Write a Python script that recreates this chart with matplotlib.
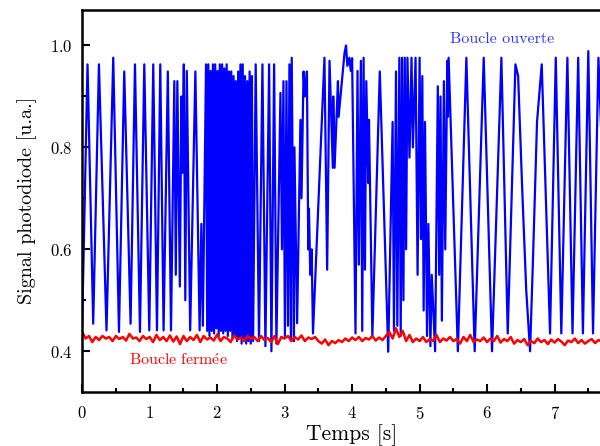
import numpy as np
import matplotlib
matplotlib.use('Agg')
import matplotlib.pyplot as plt
from matplotlib.ticker import MultipleLocator

plt.rcParams['font.family'] = ['cmr10', 'DejaVu Serif']
plt.rcParams['mathtext.fontset'] = 'cm'
plt.rcParams['axes.formatter.use_mathtext'] = True

# Boucle ouverte: extrema (time [s], signal [u.a.])
blue_t = [0.0, 0.079, 0.163, 0.248, 0.36, 0.46, 0.545, 0.623, 0.717, 0.782, 0.856, 0.92, 0.994,
          1.053, 1.108, 1.157, 1.206, 1.269, 1.316, 1.365, 1.387, 1.41, 1.447, 1.47, 1.484,
          1.506, 1.528, 1.55, 1.60, 1.677, 1.74, 1.766, 1.788, 1.835,
          1.852, 1.869, 1.886, 1.903, 1.920, 1.937, 1.954, 1.971, 1.988, 2.005,
          2.022, 2.039, 2.056, 2.073, 2.090, 2.107, 2.124, 2.141, 2.158, 2.175, 2.192, 2.209,
          2.226, 2.243, 2.260, 2.277, 2.294, 2.311, 2.328, 2.345, 2.362, 2.379, 2.396, 2.413,
          2.430, 2.447, 2.464, 2.481, 2.498, 2.515, 2.532,
          2.571, 2.62, 2.671, 2.715, 2.77, 2.804, 2.844, 2.878, 2.938, 2.96, 2.982, 3.004,
          3.027, 3.05, 3.071, 3.093, 3.105, 3.138, 3.145, 3.185, 3.234, 3.25, 3.28, 3.30, 3.33,
          3.35, 3.36, 3.38, 3.40,
          3.42, 3.59, 3.63, 3.665, 3.714, 3.72, 3.74, 3.79, 3.80, 3.887, 3.91, 3.93, 3.96, 3.98, 4.0,
          4.05, 4.08, 4.10, 4.13, 4.15, 4.17, 4.19, 4.21, 4.24, 4.25, 4.30, 4.41, 4.535,
          4.60, 4.62, 4.65, 4.67, 4.70, 4.72, 4.74, 4.76, 4.78, 4.80, 4.82, 4.85, 4.88, 4.90,
          4.94, 4.97, 5.00, 5.02, 5.04, 5.06, 5.08, 5.11, 5.13, 5.16, 5.18, 5.23,
          5.27, 5.29, 5.31, 5.33, 5.36, 5.38, 5.41, 5.42, 5.43,
          5.567, 5.693, 5.816, 5.95, 6.073, 6.212, 6.306, 6.42, 6.46, 6.52, 6.58, 6.637,
          6.68, 6.74, 6.81, 6.933, 7.018, 7.10, 7.19, 7.266, 7.35, 7.42, 7.50, 7.57, 7.65, 7.70]
blue_v = [0.455, 0.963, 0.454, 0.963, 0.441, 0.976, 0.438, 0.949, 0.454, 0.963, 0.438, 0.963, 0.441,
          0.963, 0.441, 0.963, 0.441, 0.949, 0.441, 0.93, 0.55, 0.93, 0.527, 0.90, 0.75,
          0.963, 0.50, 0.95, 0.441, 0.949, 0.441, 0.65, 0.45, 0.963,
          0.44, 0.963, 0.43, 0.95, 0.44, 0.963, 0.435, 0.963, 0.445, 0.95,
          0.43, 0.963, 0.44, 0.963, 0.435, 0.955, 0.44, 0.963, 0.43, 0.949, 0.44, 0.949,
          0.425, 0.94, 0.43, 0.93, 0.42, 0.949, 0.425, 0.963, 0.415, 0.963, 0.42, 0.94,
          0.415, 0.93, 0.42, 0.949, 0.415, 0.94, 0.42,
          0.963, 0.42, 0.963, 0.41, 0.963, 0.40, 0.963, 0.415, 0.907, 0.60, 0.93, 0.43,
          0.93, 0.45, 0.963, 0.42, 0.976, 0.42, 0.80, 0.455, 0.854, 0.70, 0.949, 0.90, 0.949,
          0.60, 0.68, 0.55, 0.60,
          0.435, 0.976, 0.56, 0.97, 0.76, 0.90, 0.76, 0.93, 0.86, 0.985, 1.0, 0.96, 0.976, 0.95, 0.975,
          0.435, 0.95, 0.57, 0.97, 0.44, 0.976, 0.56, 0.93, 0.73, 0.854, 0.43, 0.949, 0.399,
          0.85, 0.44, 0.949, 0.45, 0.976, 0.43, 0.976, 0.50, 0.976, 0.60, 0.976, 0.78, 0.976, 0.80,
          0.976, 0.55, 0.976, 0.62, 0.94, 0.48, 0.85, 0.43, 0.65, 0.41, 0.55, 0.40,
          0.92, 0.55, 0.90, 0.46, 0.93, 0.60, 0.97, 0.86, 0.976,
          0.40, 0.976, 0.40, 0.976, 0.40, 0.976, 0.435, 0.963, 0.94, 0.72, 0.52, 0.40,
          0.58, 0.85, 0.963, 0.435, 0.976, 0.435, 0.976, 0.435, 0.976, 0.435, 0.989, 0.435, 0.976, 0.80]

# Boucle fermée: sampled every 0.05 s
red_v = [0.438, 0.425, 0.43, 0.418, 0.428, 0.422, 0.43, 0.425, 0.428, 0.42,
         0.43, 0.424, 0.428, 0.421, 0.434, 0.425, 0.427, 0.42, 0.43, 0.424,
         0.428, 0.418, 0.432, 0.422, 0.428, 0.42, 0.431, 0.419, 0.429, 0.414,
         0.43, 0.42, 0.428, 0.422, 0.432, 0.418, 0.43, 0.423, 0.427, 0.421,
         0.433, 0.42, 0.428, 0.425, 0.418, 0.431, 0.423, 0.427, 0.42, 0.43,
         0.424, 0.428, 0.42, 0.43, 0.422, 0.426, 0.418, 0.43, 0.414, 0.428,
         0.425, 0.43, 0.42, 0.428, 0.423, 0.431, 0.42, 0.427, 0.424, 0.428,
         0.42, 0.415, 0.423, 0.412, 0.42, 0.416, 0.422, 0.418, 0.425, 0.42,
         0.427, 0.422, 0.428, 0.42, 0.426, 0.423, 0.43, 0.421, 0.427, 0.422,
         0.43, 0.438, 0.425, 0.445, 0.428, 0.44, 0.42, 0.432, 0.418, 0.425,
         0.42, 0.428, 0.418, 0.424, 0.42, 0.432, 0.418, 0.425, 0.421, 0.428,
         0.42, 0.424, 0.415, 0.428, 0.42, 0.432, 0.418, 0.423, 0.42, 0.427,
         0.418, 0.425, 0.42, 0.43, 0.417, 0.424, 0.42, 0.428, 0.415, 0.422,
         0.418, 0.424, 0.412, 0.42, 0.416, 0.425, 0.418, 0.422, 0.414, 0.423,
         0.417, 0.424, 0.419, 0.412, 0.421, 0.418, 0.425, 0.416, 0.422, 0.415,
         0.42, 0.424, 0.416, 0.422, 0.419]
red_t = np.linspace(0, 7.7, len(red_v))

fig = plt.figure(figsize=(6, 4.46), dpi=100)
ax = fig.add_axes([0.137, 0.121, 0.866, 0.857])

ax.plot(blue_t, blue_v, color='blue', lw=1.6, solid_joinstyle='round')
ax.plot(red_t, red_v, color='red', lw=1.8, solid_joinstyle='round')

ax.set_xlim(0, 7.7)
ax.set_ylim(0.32, 1.07)
ax.xaxis.set_major_locator(MultipleLocator(1))
ax.xaxis.set_minor_locator(MultipleLocator(0.5))
ax.yaxis.set_major_locator(MultipleLocator(0.2))
ax.yaxis.set_minor_locator(MultipleLocator(0.1))
ax.tick_params(which='both', direction='in', width=1.5, labelsize=12)
ax.tick_params(which='major', length=6)
ax.tick_params(axis='x', which='major', pad=9)
ax.tick_params(axis='y', which='major', pad=7)
ax.tick_params(which='minor', length=3)
for s in ax.spines.values():
    s.set_linewidth(1.8)
ax.spines['right'].set_visible(False)

ax.set_xlabel('Temps [s]', fontsize=15.5, labelpad=2)
ax.xaxis.label.set_x(0.519)
ax.set_ylabel('Signal photodiode [u.a.]', fontsize=14.5, labelpad=9)

ax.text(6.22, 1.012, 'Boucle ouverte', color='#3333ff', fontsize=11.5, ha='center', va='center')
ax.text(1.42, 0.382, r'$\mathrm{Boucle\ ferm\acute{e}e}$', color='red', fontsize=11.5,
        ha='center', va='center')

fig.savefig('out.png', dpi=100)
